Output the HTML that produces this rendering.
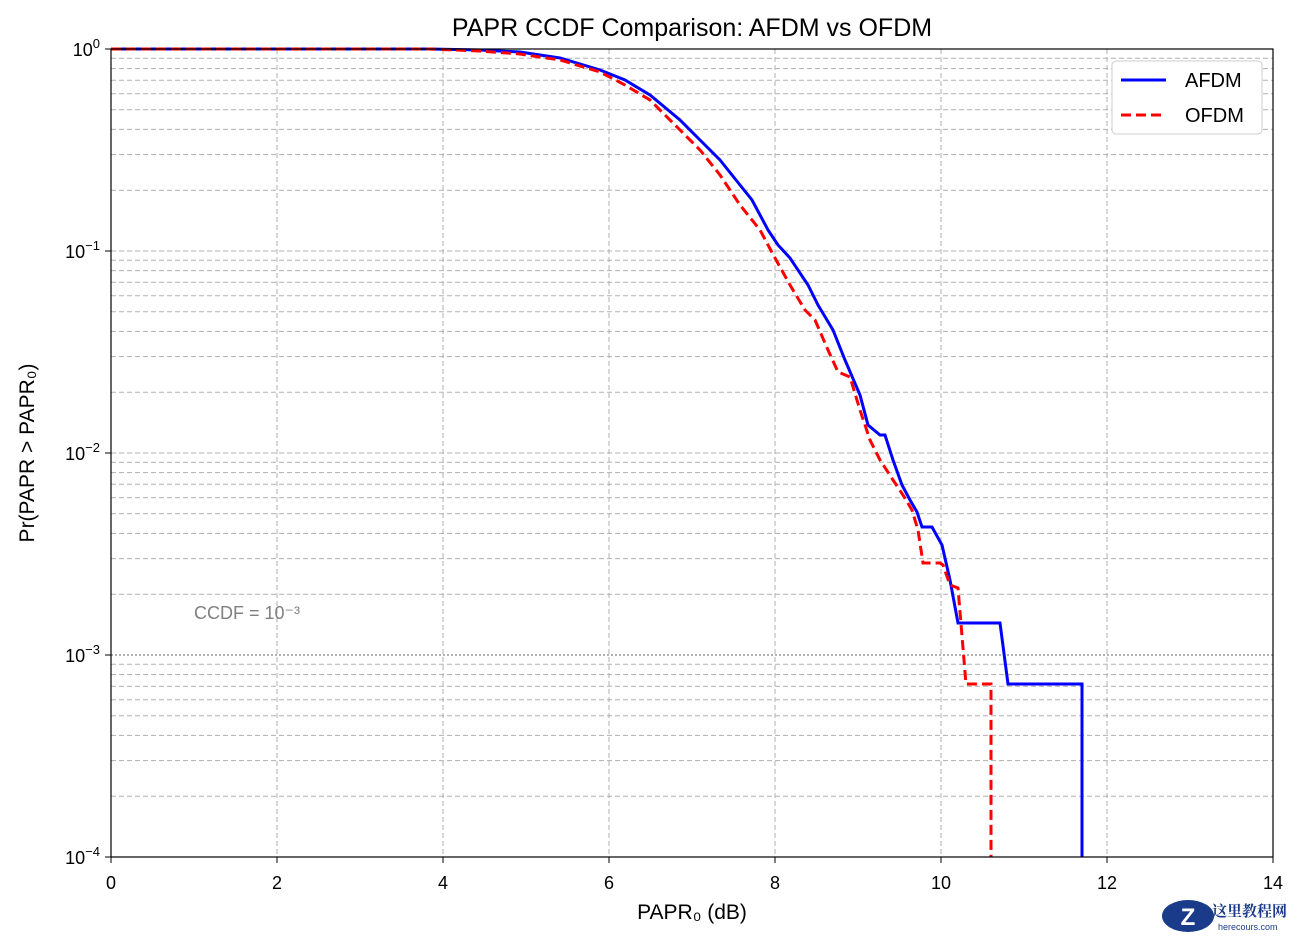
<!DOCTYPE html>
<html><head><meta charset="utf-8"><style>body{margin:0;background:#fff}svg{display:block}</style></head><body>
<svg width="1302" height="939" xmlns="http://www.w3.org/2000/svg" font-family="Liberation Sans, DejaVu Sans, sans-serif">
<rect width="1302" height="939" fill="#fff"/>
<g stroke="#b0b0b0" stroke-width="1" stroke-dasharray="5,3" fill="none">
<path d="M277,49V857M443,49V857M609,49V857M775,49V857M941,49V857M1107,49V857"/>
<path id="dec" d="M111,58.2H1273M111,68.6H1273M111,80.3H1273M111,93.8H1273M111,109.8H1273M111,129.4H1273M111,154.6H1273M111,190.2H1273"/>
<use href="#dec" transform="translate(0,202)"/>
<use href="#dec" transform="translate(0,404)"/>
<use href="#dec" transform="translate(0,606)"/>
<path d="M111,251H1273M111,453H1273"/>
</g>
<path d="M111,655H1273" stroke="#666" stroke-width="1" stroke-dasharray="2,2"/>
<text x="194" y="619" font-size="18" fill="#808080">CCDF = 10⁻³</text>
<polyline fill="none" stroke="#0000ff" stroke-width="3" points="111,49 430,49 480,50 520,52 560,58 600,70 625,80 650,95 680,120 700,140 720,160 740,185 752,200 768,230 778,245 790,258 808,285 818,305 833,330 845,360 860,395 868,425 880,435 885,435 893,460 902,485 910,500 917,512 922,527 932,527 942,545 950,580 958,623 1000,623 1008,684 1082,684 1082,857"/>
<polyline fill="none" stroke="#ff0000" stroke-width="3" stroke-dasharray="10,5" points="111,49 430,49 480,51 520,54 560,60 600,72 625,85 650,100 680,130 700,150 720,175 740,205 760,230 775,258 790,285 805,310 815,320 828,350 838,372 850,377 860,410 870,440 880,460 893,480 903,495 912,510 918,530 923,563 940,563 943,565 950,585 958,588 966,684 991,684 991,857"/>
<rect x="111" y="49" width="1162" height="808" fill="none" stroke="#000" stroke-width="1.2"/>
<g stroke="#000" stroke-width="1">
<path d="M111,857v6M277,857v6M443,857v6M609,857v6M775,857v6M941,857v6M1107,857v6M1273,857v6M111,49h-6M111,251h-6M111,453h-6M111,655h-6M111,857h-6"/>
</g>
<g font-size="18" fill="#000" text-anchor="middle">
<text x="111" y="889">0</text><text x="277" y="889">2</text><text x="443" y="889">4</text><text x="609" y="889">6</text><text x="775" y="889">8</text><text x="941" y="889">10</text><text x="1107" y="889">12</text><text x="1273" y="889">14</text>
</g>
<g font-size="18" fill="#000" text-anchor="end">
<text x="100" y="56">10<tspan dy="-8" font-size="13">0</tspan></text>
<text x="100" y="258">10<tspan dy="-8" font-size="13">−1</tspan></text>
<text x="100" y="460">10<tspan dy="-8" font-size="13">−2</tspan></text>
<text x="100" y="662">10<tspan dy="-8" font-size="13">−3</tspan></text>
<text x="100" y="864">10<tspan dy="-8" font-size="13">−4</tspan></text>
</g>
<text x="692" y="919" font-size="21" text-anchor="middle">PAPR₀ (dB)</text>
<text transform="translate(34,453) rotate(-90)" font-size="21" text-anchor="middle">Pr(PAPR &gt; PAPR₀)</text>
<text x="692" y="36" font-size="25" text-anchor="middle">PAPR CCDF Comparison: AFDM vs OFDM</text>
<rect x="1112" y="61" width="150" height="73" rx="4" fill="#fff" stroke="#ccc"/>
<path d="M1121,80h45" stroke="#0000ff" stroke-width="3"/>
<path d="M1121,115h45" stroke="#ff0000" stroke-width="3" stroke-dasharray="10,5"/>
<text x="1185" y="87" font-size="20">AFDM</text>
<text x="1185" y="122" font-size="20">OFDM</text>
<ellipse cx="1188" cy="916" rx="26" ry="16" fill="#1a3a8a"/>
<text x="1188" y="925" font-size="24" font-weight="bold" fill="#fff" text-anchor="middle">Z</text>
<text x="1212" y="916" font-size="15" font-weight="bold" fill="#1a3a8a" font-family="Liberation Serif, Noto Serif CJK SC, serif">这里教程网</text>
<text x="1218" y="930" font-size="9" fill="#1a3a8a">herecours.com</text>
</svg>
</body></html>
